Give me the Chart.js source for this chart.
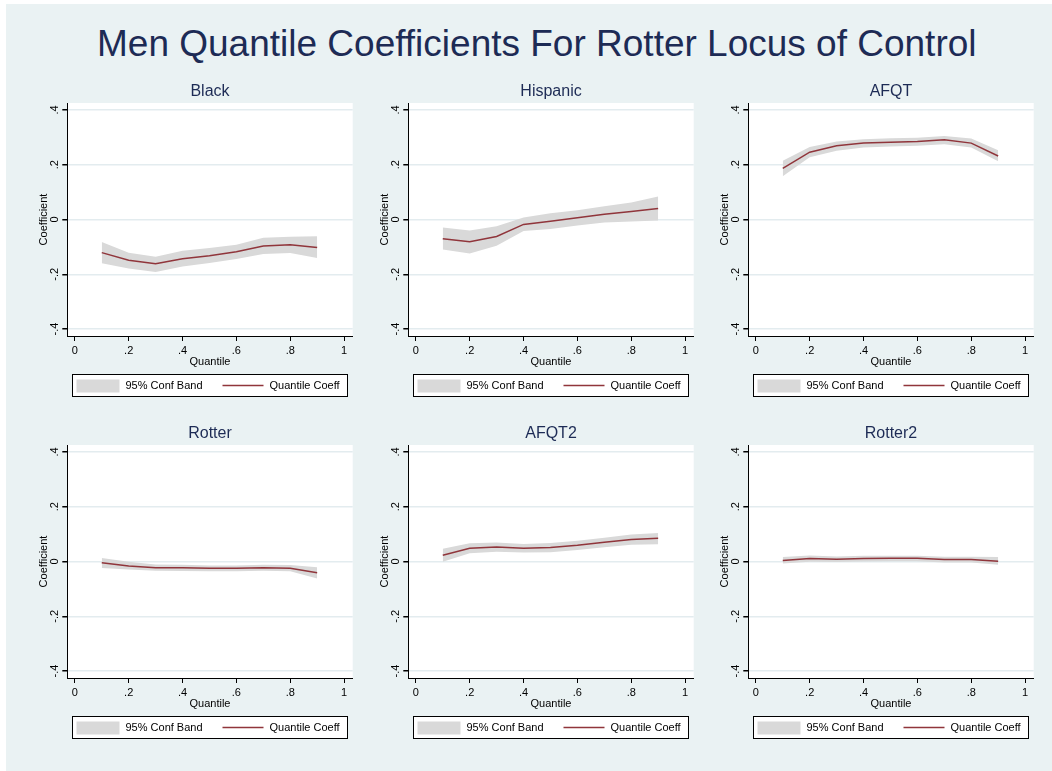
<!DOCTYPE html>
<html>
<head>
<meta charset="utf-8">
<script src="https://cdn.jsdelivr.net/npm/chart.js@4"></script>
<style>
  body { margin: 0; background: #fff; width: 1052px; height: 771px; overflow: hidden; position: relative; font-family: "Liberation Sans", Arial, sans-serif; }
  #region { position: absolute; left: 6px; top: 4px; right: 0; bottom: 0; background: #eaf2f3; }
  #mainTitle { position: absolute; left: 97px; top: 24px; font-size: 37px; line-height: 40px; color: #1d2b55; white-space: nowrap; }
  canvas { position: absolute; }
</style>
</head>
<body>
<div id="region"></div>
<div id="mainTitle">Men Quantile Coefficients For Rotter Locus of Control</div>

<script>
// quantiles on the x axis
const quantiles = [0.1, 0.2, 0.3, 0.4, 0.5, 0.6, 0.7, 0.8, 0.9];
const xTickValues = [0, 0.2, 0.4, 0.6, 0.8, 1];
const yTickValues = [-0.4, -0.2, 0, 0.2, 0.4];
const legendLabels = ['95% Conf Band', 'Quantile Coeff'];
const panelTitles = ['Black', 'Hispanic', 'AFQT', 'Rotter', 'AFQT2', 'Rotter2'];

const blackCoef  = [-0.121, -0.149, -0.162, -0.143, -0.132, -0.118, -0.097, -0.092, -0.102];
const blackUpper = [-0.082, -0.121, -0.136, -0.114, -0.104, -0.092, -0.067, -0.063, -0.061];
const blackLower = [-0.160, -0.179, -0.192, -0.172, -0.159, -0.144, -0.126, -0.122, -0.141];

const hispCoef  = [-0.070, -0.081, -0.062, -0.018, -0.006, 0.006, 0.019, 0.029, 0.040];
const hispUpper = [-0.029, -0.040, -0.025, 0.007, 0.023, 0.034, 0.048, 0.062, 0.084];
const hispLower = [-0.110, -0.124, -0.096, -0.042, -0.035, -0.022, -0.011, -0.007, -0.004];

const afqtCoef  = [0.187, 0.246, 0.269, 0.279, 0.282, 0.285, 0.291, 0.279, 0.232];
const afqtUpper = [0.215, 0.265, 0.285, 0.293, 0.297, 0.299, 0.305, 0.296, 0.253];
const afqtLower = [0.158, 0.227, 0.251, 0.263, 0.267, 0.269, 0.275, 0.263, 0.213];

const rotterCoef  = [-0.005, -0.016, -0.023, -0.023, -0.025, -0.025, -0.023, -0.025, -0.041];
const rotterUpper = [0.013, -0.001, -0.011, -0.012, -0.015, -0.015, -0.012, -0.013, -0.021];
const rotterLower = [-0.024, -0.029, -0.034, -0.035, -0.036, -0.036, -0.034, -0.036, -0.062];

const afqt2Coef  = [0.023, 0.048, 0.053, 0.048, 0.051, 0.059, 0.070, 0.080, 0.085];
const afqt2Upper = [0.047, 0.067, 0.069, 0.064, 0.068, 0.076, 0.087, 0.099, 0.104];
const afqt2Lower = [-0.001, 0.030, 0.036, 0.033, 0.034, 0.042, 0.052, 0.061, 0.063];

const rotter2Coef  = [0.004, 0.011, 0.008, 0.011, 0.012, 0.012, 0.007, 0.007, 0.001];
const rotter2Upper = [0.016, 0.022, 0.018, 0.021, 0.021, 0.021, 0.017, 0.017, 0.016];
const rotter2Lower = [-0.007, -0.001, -0.002, 0.000, 0.001, 0.001, -0.004, -0.004, -0.012];

const panels = [
  [blackCoef, blackUpper, blackLower],
  [hispCoef, hispUpper, hispLower],
  [afqtCoef, afqtUpper, afqtLower],
  [rotterCoef, rotterUpper, rotterLower],
  [afqt2Coef, afqt2Upper, afqt2Lower],
  [rotter2Coef, rotter2Upper, rotter2Lower]
];

const NAVY = '#1d2b55';
const LINE = 'rgb(144,53,59)';
const BAND = '#d9d9d9';
const GRID = '#e3ecef';

Chart.defaults.font.family = '"Liberation Sans", Arial, sans-serif';
Chart.defaults.color = '#000';

// stata style tick labels: .2, -.4, 0, 1
const fmt = v => v === 0 ? '0' : (v < 0 ? '-' : '') + String(Math.abs(v)).replace(/^0/, '');
const pts = arr => quantiles.map((q, i) => ({ x: q, y: arr[i] }));

const stataPanel = {
  id: 'stataPanel',
  beforeDraw(chart) {
    const { ctx, chartArea: a } = chart;
    ctx.save();
    ctx.fillStyle = '#fff';
    ctx.fillRect(a.left, a.top, a.right - a.left, a.bottom - a.top);
    ctx.restore();
  },
  afterDraw(chart, args, opts) {
    const { ctx, chartArea: a } = chart;
    ctx.save();
    // panel title
    ctx.font = '16px "Liberation Sans", Arial, sans-serif';
    ctx.fillStyle = NAVY;
    ctx.textAlign = 'center';
    ctx.textBaseline = 'middle';
    ctx.fillText(opts.title, (a.left + a.right) / 2, a.top - 11);

    // legend box
    const bx = Math.round(a.left + 5) + 0.5, by = Math.round(a.bottom + 38) + 0.5;
    const bw = Math.round(a.right - a.left - 10), bh = 22;
    ctx.fillStyle = '#fff';
    ctx.fillRect(bx, by, bw, bh);
    ctx.strokeStyle = '#000';
    ctx.lineWidth = 1;
    ctx.strokeRect(bx, by, bw, bh);
    const band = chart.data.datasets[1];
    const coef = chart.data.datasets[0];
    ctx.fillStyle = band.backgroundColor;
    ctx.fillRect(bx + 4, by + 5, 43, 13);
    ctx.strokeStyle = coef.borderColor;
    ctx.lineWidth = 1.5;
    ctx.beginPath();
    ctx.moveTo(bx + 150, by + 11);
    ctx.lineTo(bx + 191, by + 11);
    ctx.stroke();
    ctx.font = '11px "Liberation Sans", Arial, sans-serif';
    ctx.fillStyle = '#000';
    ctx.textAlign = 'left';
    ctx.fillText(legendLabels[0], bx + 53, by + 11.5);
    ctx.fillText(legendLabels[1], bx + 197, by + 11.5);
    ctx.restore();
  }
};

panels.forEach((p, k) => {
  const col = k % 3, row = Math.floor(k / 3);
  const cv = document.createElement('canvas');
  cv.width = 330; cv.height = 335;
  cv.style.left = (30 + col * 340.7) + 'px';
  cv.style.top = (80 + row * 342) + 'px';
  document.body.appendChild(cv);

  new Chart(cv, {
    type: 'line',
    data: {
      datasets: [
        { label: legendLabels[1], data: pts(p[0]), borderColor: LINE, borderWidth: 1.5, pointRadius: 0, fill: false, tension: 0 },
        { label: legendLabels[0], data: pts(p[1]), borderWidth: 0, backgroundColor: BAND, pointRadius: 0, fill: '+1', tension: 0 },
        { label: 'lower', data: pts(p[2]), borderWidth: 0, pointRadius: 0, fill: false, tension: 0 }
      ]
    },
    options: {
      responsive: false,
      animation: false,
      devicePixelRatio: 1,
      layout: { padding: { top: 23, left: 0, right: 7.3, bottom: 46 } },
      plugins: {
        legend: { display: false },
        tooltip: { enabled: false },
        filler: { drawTime: 'beforeDatasetsDraw' },
        stataPanel: { title: panelTitles[k] }
      },
      scales: {
        x: {
          type: 'linear', min: -0.028, max: 1.032,
          afterBuildTicks: s => { s.ticks = xTickValues.map(v => ({ value: v })); },
          afterFit: s => { s.height = 33; },
          grid: { display: true, drawOnChartArea: false, tickColor: '#000', tickLength: 5 },
          border: { display: true, color: '#000', width: 1 },
          ticks: { callback: fmt, font: { size: 11 }, padding: 3, autoSkip: false, maxRotation: 0, color: '#000' },
          title: { display: true, text: 'Quantile', font: { size: 11 }, padding: { top: 0, bottom: 0 }, color: '#000' }
        },
        y: {
          type: 'linear', min: -0.4255, max: 0.4255,
          afterBuildTicks: s => { s.ticks = yTickValues.map(v => ({ value: v })); },
          afterFit: s => { s.width = 37.3; },
          grid: { color: GRID, lineWidth: 1.5, tickColor: '#000', tickLength: 5 },
          border: { display: true, color: '#000', width: 1 },
          ticks: { callback: fmt, font: { size: 11 }, padding: 1, minRotation: 90, maxRotation: 90, crossAlign: 'center', autoSkip: false, color: '#000' },
          title: { display: true, text: 'Coefficient', font: { size: 11 }, padding: { top: 7, bottom: 0 }, color: '#000' }
        }
      }
    },
    plugins: [stataPanel]
  });
});
</script>
</body>
</html>
